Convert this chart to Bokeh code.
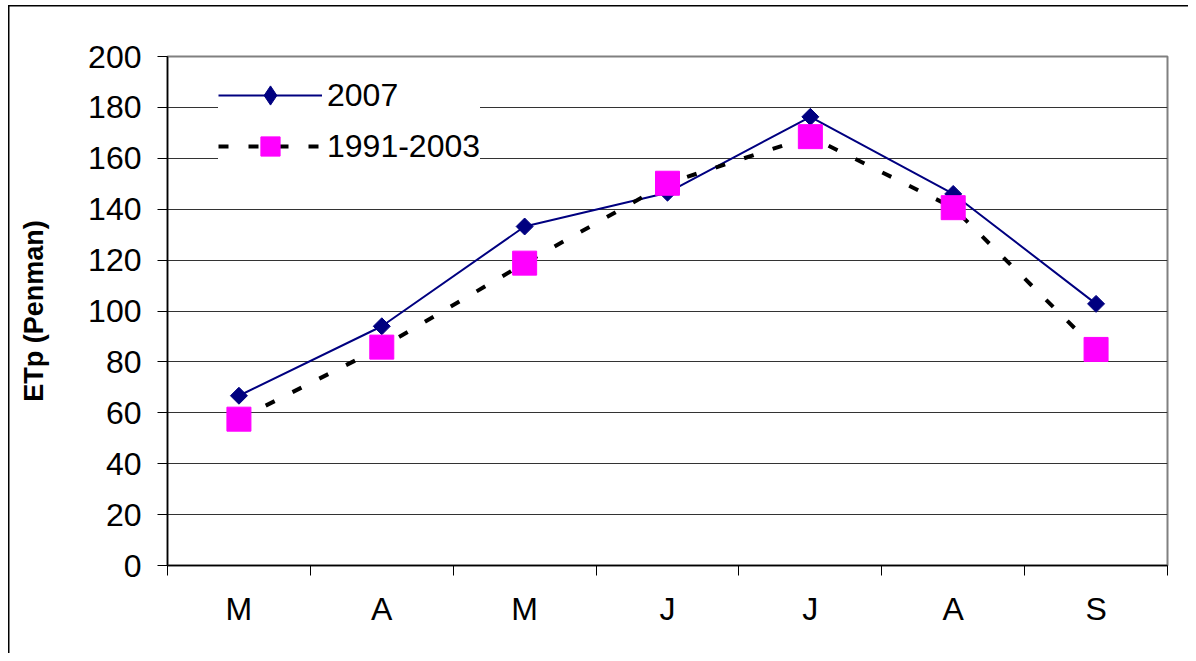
import math
from bokeh.plotting import figure
from bokeh.models import FixedTicker, Legend, LegendItem, Range1d
from bokeh.embed import file_html
from bokeh.resources import INLINE

months = ["M", "A", "M", "J", "J", "A", "S"]
etp_2007 = [66.7, 94.0, 133.2, 146.5, 176.3, 146.0, 102.8]
etp_1991_2003 = [57.5, 85.8, 118.8, 150.2, 168.5, 140.6, 84.9]
y_ticks = [0, 20, 40, 60, 80, 100, 120, 140, 160, 180, 200]

xs = [i + 0.5 for i in range(len(months))]

p = figure(width=1188, height=653, output_backend="svg", toolbar_location=None,
           x_range=Range1d(0, len(months)), y_range=Range1d(0, 200),
           min_border_left=167, min_border_right=21, min_border_top=56, min_border_bottom=88,
           background_fill_color="white", border_fill_color=None)

# outer chart border drawn as the host element's background (left and top edges)
p.styles = {
    "background-color": "white",
    "background-image": "linear-gradient(#000, #000), linear-gradient(#000, #000)",
    "background-size": "1.5px 100%, 100% 1.5px",
    "background-position": "8px 5px, 8px 5px",
    "background-repeat": "no-repeat",
}

p.outline_line_color = "#808080"
p.outline_line_width = 2

FONT = "Liberation Sans"

# x axis
p.xaxis.ticker = FixedTicker(ticks=xs, minor_ticks=list(range(len(months) + 1)))
p.xaxis.major_label_overrides = {x: m for x, m in zip(xs, months)}
p.xaxis.major_tick_line_color = None
p.xaxis.major_tick_out = 10
p.xaxis.major_tick_in = 0
p.xaxis.minor_tick_line_color = "black"
p.xaxis.minor_tick_out = 10
p.xaxis.minor_tick_in = 0
p.xaxis.axis_line_color = "black"
p.xaxis.axis_line_width = 1.5
p.xaxis.major_label_text_font = FONT
p.xaxis.major_label_text_font_size = "32px"
p.xaxis.major_label_text_color = "black"
p.xaxis.major_label_standoff = 15

# y axis
p.yaxis.ticker = FixedTicker(ticks=y_ticks)
p.yaxis.major_tick_line_color = "black"
p.yaxis.major_tick_out = 10
p.yaxis.major_tick_in = 0
p.yaxis.minor_tick_line_color = None
p.yaxis.axis_line_color = "black"
p.yaxis.axis_line_width = 1.5
p.yaxis.major_label_text_font = FONT
p.yaxis.major_label_text_font_size = "32px"
p.yaxis.major_label_text_color = "black"
p.yaxis.major_label_standoff = 16
p.yaxis.axis_label = "ETp (Penman)"
p.yaxis.axis_label_text_font = FONT
p.yaxis.axis_label_text_font_size = "27px"
p.yaxis.axis_label_text_font_style = "bold"
p.yaxis.axis_label_text_color = "black"
p.yaxis.axis_label_standoff = 36

p.xgrid.grid_line_color = None
p.ygrid.grid_line_color = "#333333"
p.ygrid.grid_line_width = 1

# series
l1 = p.line(xs, etp_2007, line_color="#000080", line_width=2)
s1 = p.scatter(xs, etp_2007, marker="square", angle=math.pi / 4, size=12,
               fill_color="#000080", line_color="#000080")
l2 = p.line(xs, etp_1991_2003, line_color="black", line_width=4, line_dash="10 20")
s2 = p.scatter(xs, etp_1991_2003, marker="square", size=24,
               fill_color="#ff00ff", line_color="#ff00ff")

# legend-only diamond glyph: zero size in the plot, drawn at legend size in the legend
s1_leg = p.scatter(xs, etp_2007, marker="diamond", size=0,
                   fill_color="#000080", line_color="#000080")

legend = Legend(items=[LegendItem(label="2007", renderers=[l1, s1_leg]),
                       LegendItem(label="1991-2003", renderers=[l2, s2])],
                location=(51, 395), orientation="vertical",
                glyph_width=104, glyph_height=48, label_height=48,
                spacing=3, padding=10, margin=0, label_standoff=5,
                label_text_font=FONT, label_text_font_size="32px",
                label_text_color="black",
                background_fill_color="white", background_fill_alpha=1.0,
                border_line_color=None)
p.add_layout(legend)

open("out.html", "w").write(file_html(p, INLINE))
